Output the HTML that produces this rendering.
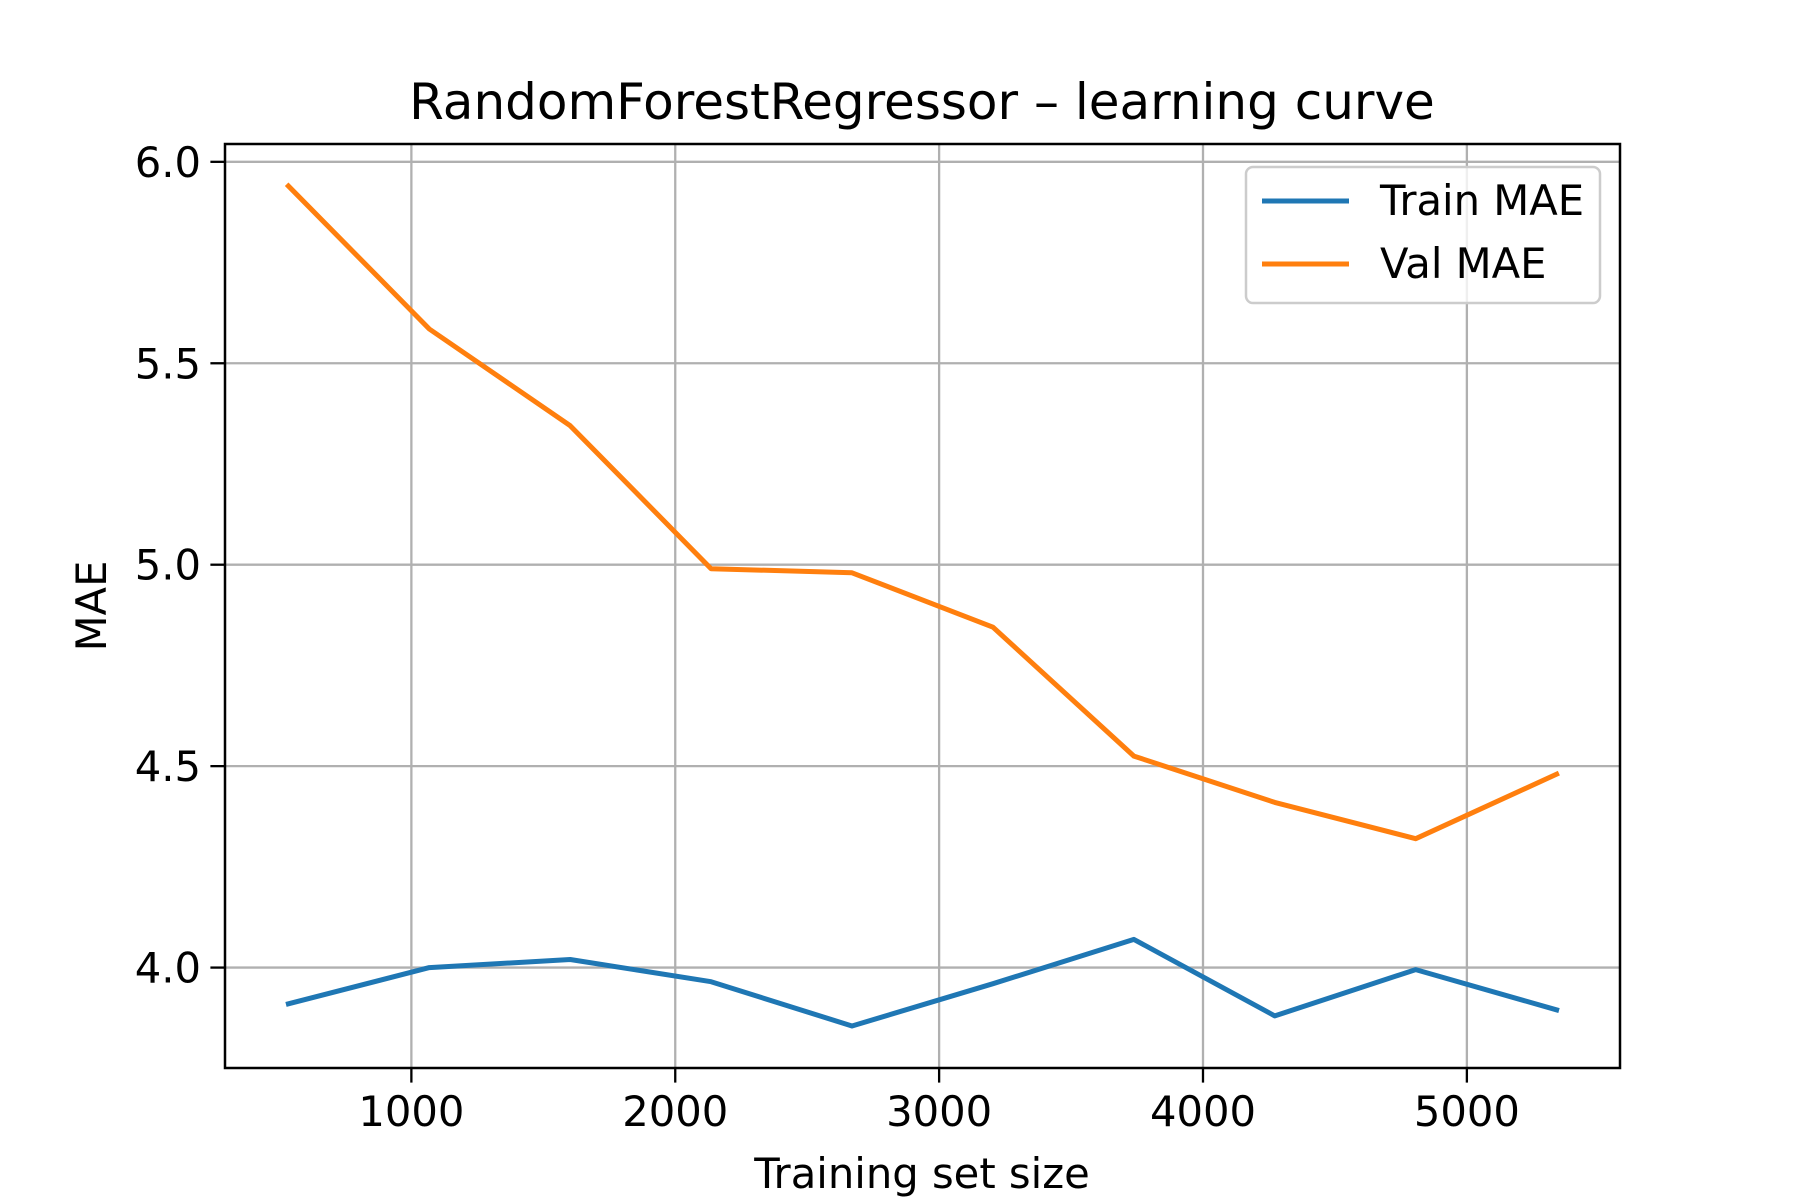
<!DOCTYPE html>
<html><head><meta charset="utf-8"><style>
html,body{margin:0;padding:0;background:#fff}
svg{display:block}
text{font-family:"DejaVu Sans","Liberation Sans",sans-serif;fill:#000}
</style></head><body>
<svg id="chart" width="1800" height="1200" viewBox="0 0 1800 1200" xmlns="http://www.w3.org/2000/svg">
<rect width="1800" height="1200" fill="#fff"/>
<text x="922" y="119" font-size="50" text-anchor="middle">RandomForestRegressor – learning curve</text>
<g id="grid"></g>
<g id="series"></g>
<rect x="225" y="144" width="1395" height="924" fill="none" stroke="#000" stroke-width="2.5"/>
<g id="axes"></g>
<text x="922" y="1188" font-size="41.7" text-anchor="middle">Training set size</text>
<text transform="translate(106,606) rotate(-90)" font-size="41.7" text-anchor="middle">MAE</text>
<g>
<rect x="1252" y="167" width="354" height="136" rx="7" fill="#fff" fill-opacity="0.8" stroke="#ccc" stroke-width="2.5" transform="translate(-6,0)"/>
<line x1="1262" y1="201" x2="1349" y2="201" stroke="#1f77b4" stroke-width="5"/>
<text x="1380" y="215" font-size="41.7">Train MAE</text>
<line x1="1262" y1="264" x2="1349" y2="264" stroke="#ff7f0e" stroke-width="5"/>
<text x="1380" y="278" font-size="41.7">Val MAE</text>
</g>
</svg>
<script>
const sizes = [534,1068,1602,2136,2670,3204,3738,4272,4806,5340];
const trainMAE = [3.91,4.0,4.02,3.965,3.855,3.96,4.07,3.88,3.995,3.895];
const valMAE = [5.94,5.585,5.345,4.99,4.98,4.845,4.525,4.41,4.32,4.48];
const xTicks = [1000,2000,3000,4000,5000];
const yTicks = [4.0,4.5,5.0,5.5,6.0];
const yTickLabels = ["4.0","4.5","5.0","5.5","6.0"];

const L=225,R=1620,T=144,B=1068;
const allY = trainMAE.concat(valMAE);
const xmin0=Math.min(...sizes), xmax0=Math.max(...sizes);
const ymin0=Math.min(...allY), ymax0=Math.max(...allY);
const xm=(xmax0-xmin0)*0.05, ym=(ymax0-ymin0)*0.05;
const xMin=xmin0-xm, xMax=xmax0+xm, yMin=ymin0-ym, yMax=ymax0+ym;
function sx(v){return L+(v-xMin)/(xMax-xMin)*(R-L);}
function sy(v){return B-(v-yMin)/(yMax-yMin)*(B-T);}
const NS="http://www.w3.org/2000/svg";
function mk(tag,attrs,parent){const e=document.createElementNS(NS,tag);for(const k in attrs)e.setAttribute(k,attrs[k]);parent.appendChild(e);return e;}
const grid=document.getElementById('grid'), axes=document.getElementById('axes'), series=document.getElementById('series');
xTicks.forEach(t=>{
  const x=sx(t);
  const g=mk('line',{x1:x,y1:T,x2:x,y2:B,stroke:'#b0b0b0','stroke-width':2.3},grid);
  
  
  const tk=mk('line',{x1:x,y1:B,x2:x,y2:B+14.6,stroke:'#000','stroke-width':2.3},axes);
  
  
  const lb=mk('text',{x:x,y:B+58,'font-size':41.7,'text-anchor':'middle'},axes);
  lb.textContent=String(t);
  
  
});
yTicks.forEach((t,i)=>{
  const y=sy(t);
  const g=mk('line',{x1:L,y1:y,x2:R,y2:y,stroke:'#b0b0b0','stroke-width':2.3},grid);
  
  
  const tk=mk('line',{x1:L-14.6,y1:y,x2:L,y2:y,stroke:'#000','stroke-width':2.3},axes);
  
  
  const lb=mk('text',{x:L-24,y:y+15,'font-size':41.7,'text-anchor':'end'},axes);
  lb.textContent=yTickLabels[i];
  
  
});
function line(vals,color,name){
  const pts=sizes.map((s,i)=>sx(s).toFixed(1)+','+sy(vals[i]).toFixed(1)).join(' ');
  const p=mk('polyline',{points:pts,fill:'none',stroke:color,'stroke-width':5,'stroke-linejoin':'round','stroke-linecap':'square'},series);
  
  
}
line(trainMAE,'#1f77b4','train-mae-line');
line(valMAE,'#ff7f0e','val-mae-line');
</script>
</body></html>
